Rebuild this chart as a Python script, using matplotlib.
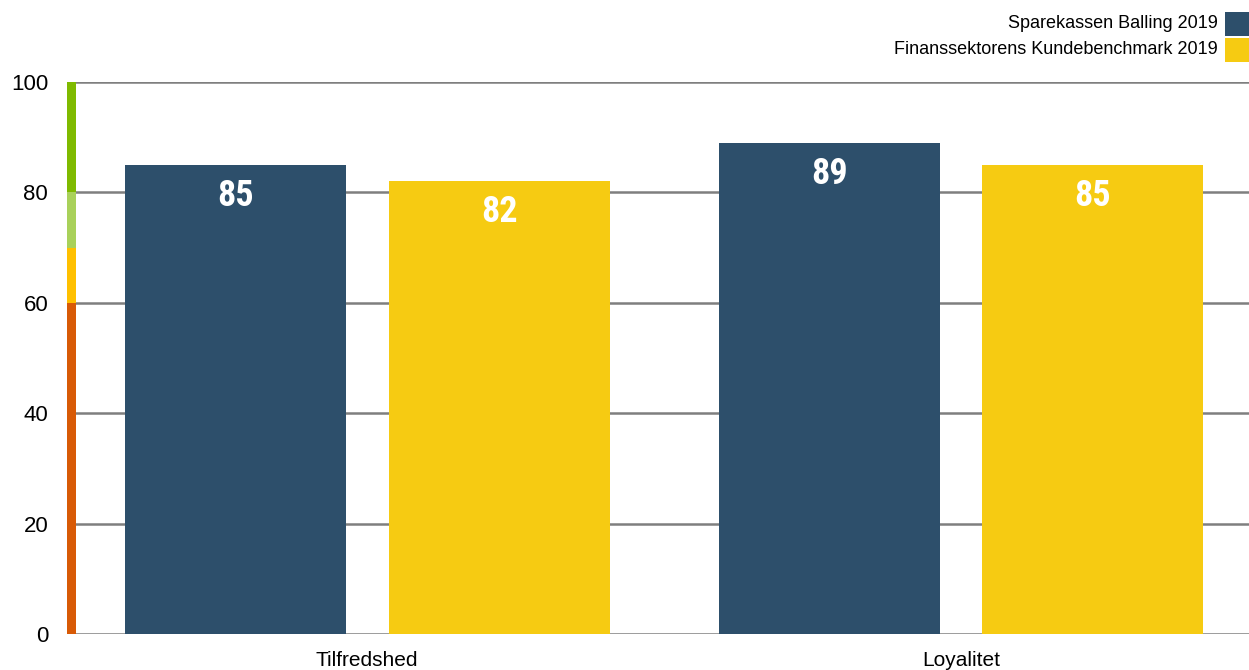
import matplotlib
matplotlib.use("Agg")
import matplotlib.pyplot as plt
from matplotlib import font_manager
from matplotlib.font_manager import FontProperties
from matplotlib.patches import Rectangle
from matplotlib.transforms import blended_transform_factory
import numpy as np

categories = ["Tilfredshed", "Loyalitet"]
series_names = ["Sparekassen Balling 2019", "Finanssektorens Kundebenchmark 2019"]
balling = [85, 89]
benchmark = [82, 85]
yticks = [0, 20, 40, 60, 80, 100]
bands = [(0, 60, "#D85A06"), (60, 70, "#FFC000"), (70, 80, "#A9D15A"), (80, 100, "#7FBA00")]

colors = ["#2D4F6B", "#F6CB12"]

plt.rcParams['font.family'] = ["Liberation Sans", "DejaVu Sans"]


def find_font(keys):
    for k in keys:
        for f in font_manager.fontManager.ttflist:
            if k.lower() in f.fname.lower().replace("-", "").replace("_", ""):
                return f.fname
    return None


bold_narrow = find_font(["LiberationSansNarrowBold.", "ArialNarrowBold", "RobotoCondensedBold",
                         "DejaVuSansCondensedBold."])
if bold_narrow:
    label_fp = FontProperties(fname=bold_narrow, size=26)
else:
    label_fp = FontProperties(family="Liberation Sans", weight="bold", size=24)

fig = plt.figure(figsize=(12.49, 6.70), dpi=100)
ax = fig.add_axes([76/1249, 1-634/670, 1-76/1249, (634-82)/670])

x = np.arange(len(categories)) + 0.5
w = 0.372
off = 0.222
for vals, dx, c in [(balling, -off, colors[0]), (benchmark, off, colors[1])]:
    bars = ax.bar(x + dx, vals, width=w, color=c, zorder=3)
    for b, v in zip(bars, vals):
        ax.text(b.get_x() + b.get_width()/2, v - 5.6, f"{v}", ha="center", va="center",
                color="white", fontproperties=label_fp, zorder=4)

ax.set_xlim(0.0095, 1.985)
ax.set_ylim(0, 100)
ax.set_yticks(yticks)
ax.set_yticklabels([str(t) for t in yticks], fontsize=16)
ax.set_xticks(x)
ax.set_xticklabels(categories, fontsize=15)
ax.tick_params(axis="both", length=0)
ax.tick_params(axis="y", pad=20)
ax.tick_params(axis="x", pad=12)
for s in ax.spines.values():
    s.set_visible(False)
for t in yticks:
    ax.axhline(t, color="#7F7F7F", lw=1.8, zorder=2)

tr = blended_transform_factory(ax.transAxes, ax.transData)
for y0, y1, c in bands:
    ax.add_patch(Rectangle((-9/1173, y0), 9/1173, y1 - y0, transform=tr, color=c,
                           clip_on=False, zorder=5, lw=0))

# legend
rows_y = [24/670, 50/670]
for name, c, yy in zip(series_names, colors, rows_y):
    fig.text(1218/1249, 1 - yy, name, ha="right", va="center", fontsize=13)
    fig.patches.append(Rectangle((1225/1249, 1 - yy - 12/670), 24/1249, 24/670,
                                 transform=fig.transFigure, color=c, lw=0))

fig.savefig("out.png", dpi=100)
